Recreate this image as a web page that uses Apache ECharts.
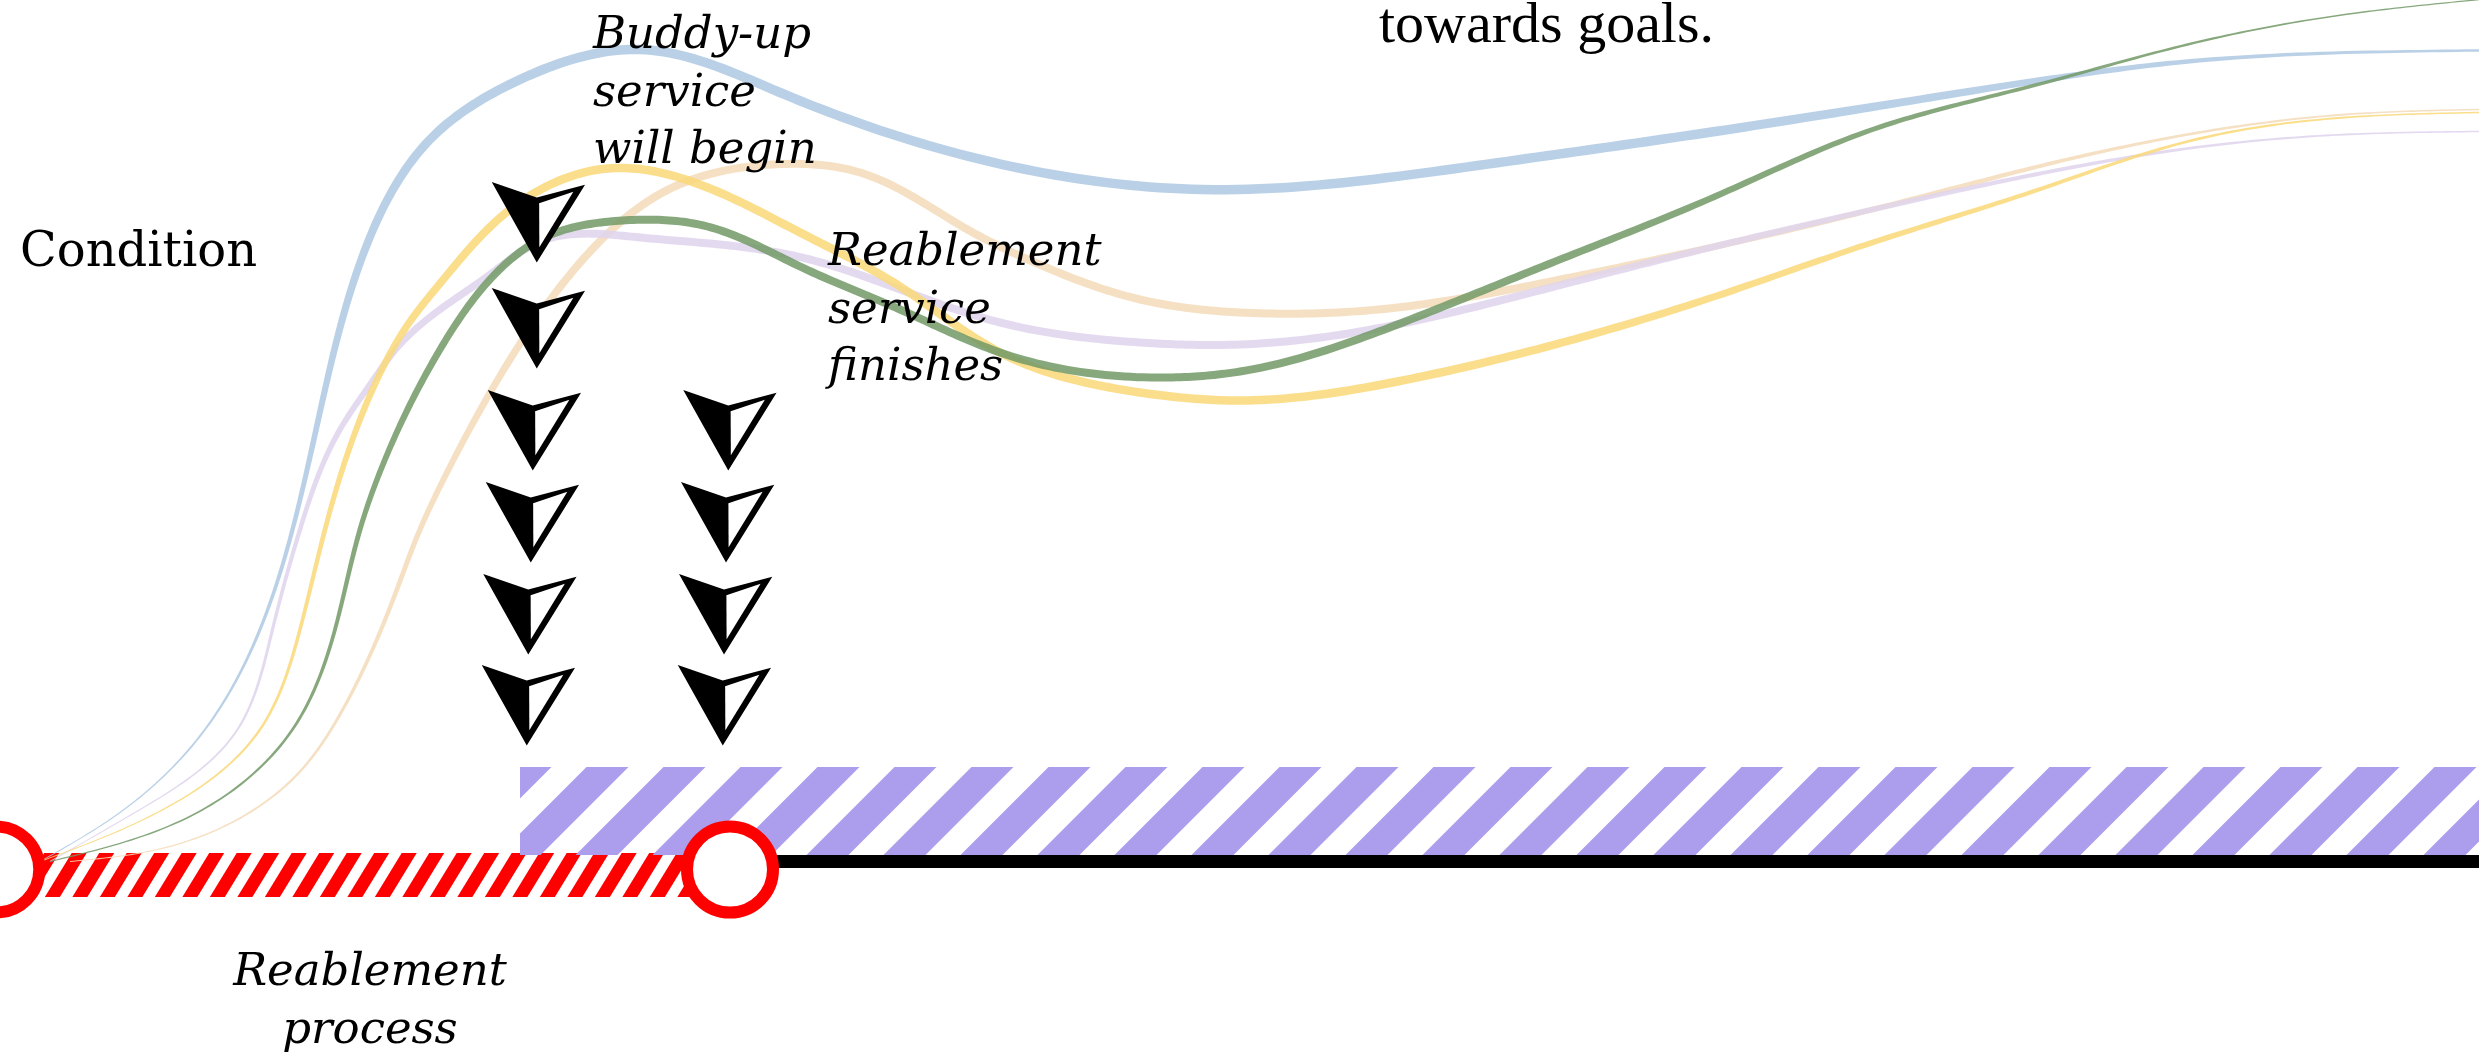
<!DOCTYPE html>
<html>
<head>
<meta charset="utf-8">
<script src="https://cdn.jsdelivr.net/npm/echarts@6/dist/echarts.min.js"></script>
<style>
html,body{margin:0;padding:0;background:#fff;}
#chart{width:2479px;height:1053px;}
</style>
</head>
<body>
<div id="chart"></div>
<script>
// ---- DATA (x: time, arbitrary units; y: level of independence, arbitrary units; y = 0 is the timeline) ----
const xRange = [0, 99.16];
const yRange = [-19.15, 86.15];

const pathBlue = [[1.6,0],[4.8,4.9],[8.2,13.2],[10.4,23.2],[11.7,33.2],[13.0,47.2],[14.6,61.2],[17.2,72.2],[20.8,78.2],[25.6,81.2],[31.2,76.9],[38.0,71.0],[48.1,67.2],[59.1,69.6],[68.6,73.0],[78.0,76.7],[87.5,80.0],[99.2,81.1]];
const pathPeach = [[2.8,0],[6.3,1.2],[9.5,4.2],[12.0,9.0],[13.6,14.7],[14.9,21.2],[15.8,26.7],[16.8,33.2],[17.6,37.5],[20.3,49.8],[22.9,59.0],[26.9,67.4],[30.9,69.7],[34.4,68.9],[38.7,63.2],[41.3,60.0],[45.6,56.2],[49.6,54.9],[55.9,55.4],[62.2,58.1],[68.6,61.5],[74.9,65.2],[81.2,69.3],[87.5,72.7],[93.8,74.7],[99.2,75.2]];
const pathPurple = [[2.0,0],[5.4,4.9],[9.5,13.2],[10.9,23.2],[12.0,33.2],[13.6,43.2],[14.8,47.7],[16.0,51.7],[17.6,55.2],[19.6,58.7],[21.6,62.0],[25.6,62.4],[28.8,61.7],[32.4,60.2],[36.0,57.2],[40.0,53.9],[45.6,51.9],[49.6,51.7],[55.9,53.7],[62.2,57.5],[68.6,61.5],[74.9,65.2],[81.2,68.6],[87.5,71.3],[93.8,72.7],[99.2,73.0]];
const pathYellow = [[1.6,0],[6.3,4.9],[10.4,13.2],[12.0,23.2],[13.0,33.2],[14.9,47.2],[16.4,54.0],[17.6,57.8],[20.3,65.0],[24.3,69.3],[28.3,67.4],[32.0,62.9],[36.0,57.5],[40.0,50.9],[45.6,46.9],[49.6,46.1],[55.9,48.0],[62.2,51.7],[68.6,56.5],[74.9,61.9],[81.2,66.9],[87.5,72.0],[93.8,74.4],[99.2,74.9]];
const pathGreen = [[2.0,0],[7.9,4.9],[11.7,13.2],[13.4,23.2],[14.4,33.2],[15.4,40.2],[16.4,45.7],[17.6,51.2],[19.6,58.2],[21.6,62.2],[24.9,64.1],[28.3,63.5],[32.0,59.5],[36.0,55.2],[40.0,50.9],[46.0,48.4],[49.6,49.0],[55.9,53.7],[62.2,60.0],[68.6,66.5],[74.9,73.2],[81.2,77.5],[87.5,81.7],[93.8,84.7],[99.2,86.2]];

const milestones = [[-0.15,-0.8],[29.2,-0.8]];     // start and end of the reablement process
const reablementBand = [0, 29.2];                   // reablement process
const buddyBand = [20.8, 99.16];                    // buddy-up service
const timelineAfter = [[29.2,0],[99.16,0]];          // line after reablement

const visitsEarlyX = [21.47, 21.47, 21.31, 21.23, 21.13, 21.07];
const visitsEarlyY = [59.9, 49.3, 39.1, 29.9, 20.7, 11.6];
const visitsLateX = [29.13, 29.04, 28.96, 28.91];
const visitsLateY = [39.1, 29.9, 20.7, 11.6];

// ---- STYLES ----
const curveStyles = [
  {data: pathBlue,   fill: 'rgba(173,200,226,0.85)', wMax: 9.5, w0: 1.0, w1: 2.5, sUp: 0.34, sDown: 0.72},
  {data: pathPeach,  fill: 'rgba(243,219,184,0.85)', wMax: 8.0, w0: 1.0, w1: 1.5, sUp: 0.32, sDown: 0.62},
  {data: pathPurple, fill: 'rgba(223,212,237,0.85)', wMax: 8.0, w0: 1.0, w1: 1.5, sUp: 0.32, sDown: 0.62},
  {data: pathYellow, fill: 'rgba(249,216,120,0.85)', wMax: 8.5, w0: 1.0, w1: 1.5, sUp: 0.32, sDown: 0.62},
  {data: pathGreen,  fill: 'rgba(114,153,102,0.85)', wMax: 8.0, w0: 1.2, w1: 1.2, sUp: 0.32, sDown: 0.60}
];
const bandStyles = [
  {range: reablementBand, top: -8.5, bottom: 35.5, color: '#ff0000', bg: '#ffffff', period: 27.5, width: 15, slant: 0.61, phase: 16.7},
  {range: buddyBand, top: -94.5, bottom: -6.5, color: '#ad9ded', bg: null, period: 77, width: 42, slant: 1.0, phase: 66.5}
];
const ARROW_OUTER = [[-45,-80.4],[0,-65.1],[48.3,-77.7],[0,0]];
const ARROW_INNER = [[2.4,-59.3],[36.6,-70.8],[2.6,-15.3]];

// ---- helpers ----
function smoothstep(t){ t = Math.max(0, Math.min(1, t)); return t*t*(3-2*t); }
// natural cubic spline through pixel points, chord-length parameterised
function splineSecond(t, v) {
  const n = t.length - 1;
  const M = new Array(n+1).fill(0);
  if (n < 2) return M;
  const a = [], b = [], c = [], d = [];
  for (let i = 1; i < n; i++) {
    const h0 = t[i]-t[i-1], h1 = t[i+1]-t[i];
    a.push(h0); b.push(2*(h0+h1)); c.push(h1);
    d.push(6*((v[i+1]-v[i])/h1 - (v[i]-v[i-1])/h0));
  }
  const m = b.length;
  for (let i = 1; i < m; i++) { const w = a[i]/b[i-1]; b[i] -= w*c[i-1]; d[i] -= w*d[i-1]; }
  const x = new Array(m);
  x[m-1] = d[m-1]/b[m-1];
  for (let i = m-2; i >= 0; i--) x[i] = (d[i] - c[i]*x[i+1])/b[i];
  for (let i = 0; i < m; i++) M[i+1] = x[i];
  return M;
}
function densify(P, per) {
  const t = [0];
  for (let i = 1; i < P.length; i++) t.push(t[i-1] + Math.hypot(P[i][0]-P[i-1][0], P[i][1]-P[i-1][1]));
  const xs = P.map(p => p[0]), ys = P.map(p => p[1]);
  const Mx = splineSecond(t, xs), My = splineSecond(t, ys);
  const out = [P[0].slice()];
  for (let i = 0; i < P.length - 1; i++) {
    const h = t[i+1]-t[i];
    for (let k = 1; k <= per; k++) {
      const tt = t[i] + h*k/per;
      const A = t[i+1]-tt, B = tt-t[i];
      const ev = (v, M) => M[i]*A*A*A/(6*h) + M[i+1]*B*B*B/(6*h) + (v[i]/h - M[i]*h/6)*A + (v[i+1]/h - M[i+1]*h/6)*B;
      out.push([ev(xs, Mx), ev(ys, My)]);
    }
  }
  return out;
}
function ribbonRenderer(st) {
  return function (params, api) {
    if (params.dataIndex !== 0) return null;
    const P = st.data.map(p => api.coord(p));
    const D = densify(P, 24);
    const cum = [0];
    for (let i = 1; i < D.length; i++) cum.push(cum[i-1] + Math.hypot(D[i][0]-D[i-1][0], D[i][1]-D[i-1][1]));
    const total = cum[cum.length-1];
    const left = [], right = [];
    for (let i = 0; i < D.length; i++) {
      const a = D[Math.max(0, i-1)], b = D[Math.min(D.length-1, i+1)];
      const tx = b[0]-a[0], ty = b[1]-a[1];
      const len = Math.hypot(tx, ty) || 1;
      const nx = -ty/len, ny = tx/len;
      const s = cum[i]/total;
      const w = st.w0 + (st.wMax - st.w0) * smoothstep(s/st.sUp) - (st.wMax - st.w1) * (s > st.sDown ? smoothstep((s - st.sDown)/(1 - st.sDown)) : 0);
      left.push([D[i][0] + nx*w/2, D[i][1] + ny*w/2]);
      right.push([D[i][0] - nx*w/2, D[i][1] - ny*w/2]);
    }
    return {type: 'polygon', shape: {points: left.concat(right.reverse())}, style: {fill: st.fill}};
  };
}
function clipHalf(pts, k, sign) {
  const out = [];
  for (let i = 0; i < pts.length; i++) {
    const a = pts[i], b = pts[(i+1) % pts.length];
    const da = sign*(a[0]-k), db = sign*(b[0]-k);
    if (da >= 0) out.push(a);
    if ((da >= 0) !== (db >= 0)) {
      const t = da/(da-db);
      out.push([a[0] + t*(b[0]-a[0]), a[1] + t*(b[1]-a[1])]);
    }
  }
  return out;
}
function bandRenderer(params, api) {
  const st = bandStyles[params.dataIndex];
  const s = api.coord([api.value(0), 0]);
  const e = api.coord([api.value(1), 0]);
  const x0 = s[0], x1 = e[0], y0 = s[1] + st.top, y1 = s[1] + st.bottom;
  const h = y1 - y0, shift = st.slant * h;
  const children = [];
  if (st.bg) children.push({type: 'rect', shape: {x: x0, y: y0, width: x1-x0, height: h}, style: {fill: st.bg}});
  const iMin = -Math.ceil((shift + st.width + st.phase) / st.period) - 1;
  const iMax = Math.ceil((x1 - x0) / st.period) + 1;
  for (let i = iMin; i <= iMax; i++) {
    const tx = x0 + st.phase + i*st.period;
    let poly = [[tx, y0], [tx + st.width, y0], [tx + st.width - shift, y1], [tx - shift, y1]];
    poly = clipHalf(poly, x0, 1);
    if (poly.length < 3) continue;
    poly = clipHalf(poly, x1, -1);
    if (poly.length < 3) continue;
    children.push({type: 'polygon', shape: {points: poly}, style: {fill: st.color}});
  }
  return {type: 'group', children};
}
function arrowRenderer(params, api) {
  const p = api.coord([api.value(0), api.value(1)]);
  const o = pts => pts.map(q => [p[0] + q[0], p[1] + q[1]]);
  return {type: 'group', children: [
    {type: 'polygon', shape: {points: o(ARROW_OUTER)}, style: {fill: '#000'}},
    {type: 'polygon', shape: {points: o(ARROW_INNER)}, style: {fill: '#fff'}}
  ]};
}

// ---- chart ----
const chart = echarts.init(document.getElementById('chart'));
const series = [];
series.push({type: 'custom', name: 'bands', coordinateSystem: 'cartesian2d', z: 1, clip: false,
  data: bandStyles.map(b => b.range), encode: {x: [0, 1]}, renderItem: bandRenderer, silent: true});
series.push({type: 'line', name: 'timeline', data: timelineAfter, symbol: 'none', z: 2, clip: false,
  lineStyle: {color: '#000', width: 13, cap: 'butt'}, silent: true});
curveStyles.forEach((st, i) => {
  series.push({type: 'custom', name: 'path' + i, coordinateSystem: 'cartesian2d', z: 3, clip: false,
    data: st.data, encode: {x: 0, y: 1}, renderItem: ribbonRenderer(st), silent: true});
});
series.push({type: 'custom', name: 'visitsEarly', coordinateSystem: 'cartesian2d', z: 4, clip: false,
  data: visitsEarlyX.map((x, i) => [x, visitsEarlyY[i]]), encode: {x: 0, y: 1}, renderItem: arrowRenderer, silent: true});
series.push({type: 'custom', name: 'visitsLate', coordinateSystem: 'cartesian2d', z: 4, clip: false,
  data: visitsLateX.map((x, i) => [x, visitsLateY[i]]), encode: {x: 0, y: 1}, renderItem: arrowRenderer, silent: true});
series.push({type: 'scatter', name: 'milestones', data: milestones, z: 5, clip: false, symbol: 'circle', symbolSize: 86,
  itemStyle: {color: '#ffffff', borderColor: '#ff0000', borderWidth: 12, opacity: 1}, silent: true});

const italic = 'italic 45px "DejaVu Serif"';
chart.setOption({
  animation: false,
  backgroundColor: '#ffffff',
  grid: {left: 0, right: 0, top: 0, bottom: 0},
  xAxis: {type: 'value', min: xRange[0], max: xRange[1], show: false},
  yAxis: {type: 'value', min: yRange[0], max: yRange[1], show: false},
  series: series,
  graphic: [
    {type: 'text', x: 20, y: 226, z: 10, style: {text: 'Condition', font: '48px "DejaVu Serif"', fill: '#000', lineHeight: 56, verticalAlign: 'top', align: 'left'}},
    {type: 'text', x: 593, y: 8, z: 10, style: {text: 'Buddy-up\nservice\nwill begin', font: italic, fill: '#000', lineHeight: 57.5, verticalAlign: 'top', align: 'left'}},
    {type: 'text', x: 828, y: 225, z: 10, style: {text: 'Reablement\nservice\nfinishes', font: italic, fill: '#000', lineHeight: 57.5, verticalAlign: 'top', align: 'left'}},
    {type: 'text', x: 370, y: 944, z: 10, style: {text: 'Reablement\nprocess', font: italic, fill: '#000', lineHeight: 58, verticalAlign: 'top', align: 'center'}},
    {type: 'text', x: 1379, y: -3, z: 10, style: {text: 'towards goals.', font: '58px "Liberation Serif"', fill: '#000', lineHeight: 60, verticalAlign: 'top', align: 'left'}}
  ]
});
</script>
</body>
</html>
